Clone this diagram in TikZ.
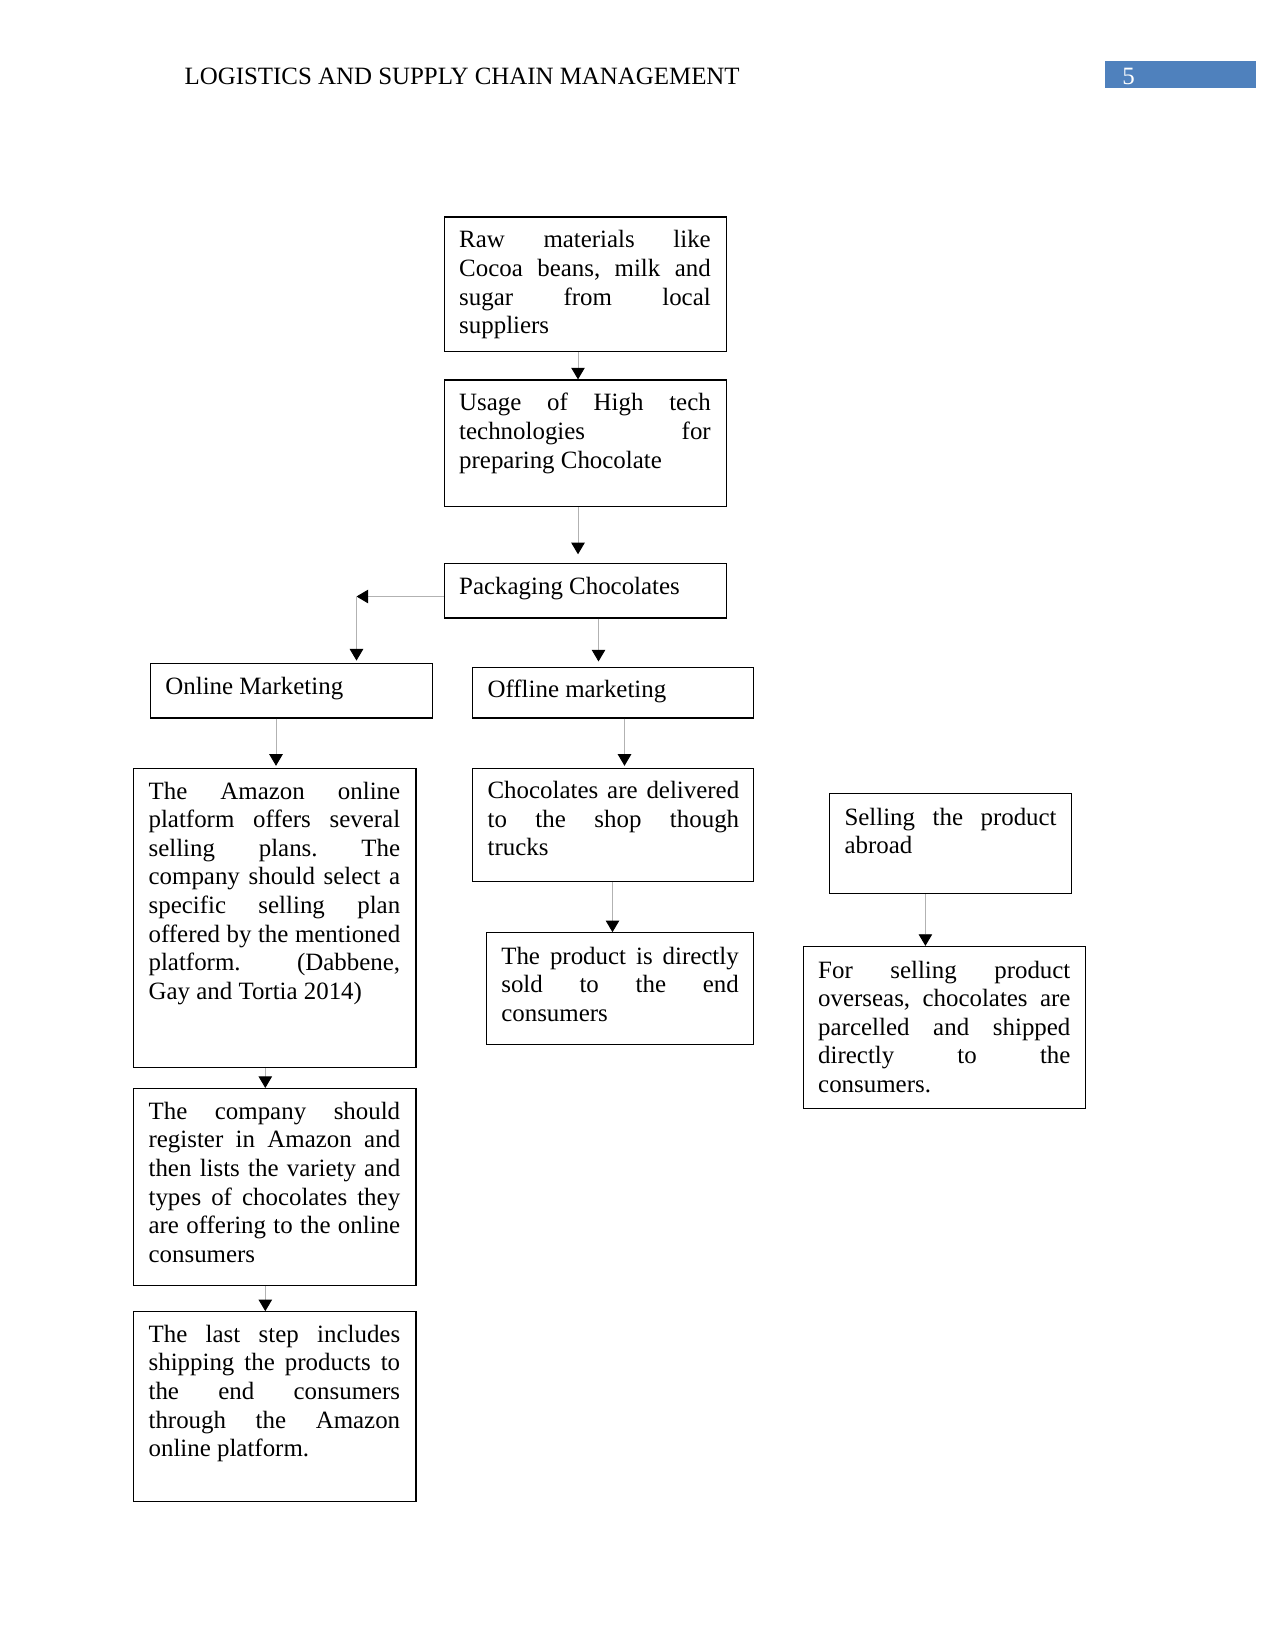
\documentclass[tikz,border=0pt]{standalone}
\usepackage{fontspec}
\setmainfont{Liberation Serif}
\usetikzlibrary{fit,arrows.meta}
\definecolor{pageblue}{HTML}{4F81BD}
\tolerance=10000 \hbadness=10000 \hyphenpenalty=10000
\frenchspacing
\begin{document}
\begin{tikzpicture}[x=0.4818pt,y=-0.4818pt,
  box/.style={draw=black, line width=0.6pt, rectangle, inner sep=0pt},
  txt/.style={anchor=base west, inner sep=0pt, font=\fontsize{12pt}{13.8pt}\selectfont\frenchspacing},
  jtxt/.style={txt, align=justify, text width=#1},
  conn/.style={draw=gray!60, line width=0.45pt, -{Triangle[width=6.5pt,length=5.6pt,color=black,fill=black]}}]
\useasboundingbox (0,0) rectangle (1275,1651);

% header
\node[txt] (hdr) at (184.2,84.2) {LOGISTICS AND SUPPLY CHAIN MANAGEMENT};
\node[fill=pageblue, inner sep=0pt, fit={(1105.4,61) (1256,88.4)}] (pbox) {};
\node[txt, text=white] (pnum) at (1122,84.2) {5};

% boxes
\node[box, fit={(444.3,216.9) (726.4,351.6)}] (raw) {};
\node[box, fit={(444.3,380) (726.4,506.4)}] (usage) {};
\node[box, fit={(444.3,563.2) (726.4,618)}] (pack) {};
\node[box, fit={(150.5,663.3) (432.7,718)}] (online) {};
\node[box, fit={(472.7,667.5) (753.8,718)}] (offline) {};
\node[box, fit={(133.7,768.5) (415.9,1067.5)}] (amazon) {};
\node[box, fit={(133.7,1088.6) (415.9,1285.5)}] (company) {};
\node[box, fit={(133.7,1311.8) (415.9,1501.3)}] (last) {};
\node[box, fit={(472.7,768.5) (753.8,881.2)}] (choc) {};
\node[box, fit={(486.4,932.8) (753.8,1044.4)}] (product) {};
\node[box, fit={(829.6,793.8) (1071.8,893.8)}] (selling) {};
\node[box, fit={(803.3,946.5) (1085.4,1108.6)}] (forsell) {};

% texts
\node[jtxt=121.2pt] (rawt) at (458.8,248) {Raw materials like\linebreak Cocoa beans, milk and\linebreak sugar from local\linebreak suppliers};
\node[jtxt=121.2pt] (usaget) at (458.8,411) {Usage of High tech\linebreak technologies for\linebreak preparing Chocolate};
\node[txt] (packt) at (458.8,594) {Packaging Chocolates};
\node[txt] (onlinet) at (165,694) {Online Marketing};
\node[txt] (offlinet) at (487.2,697.5) {Offline marketing};
\node[jtxt=121.2pt] (amazont) at (148.2,799) {The Amazon online\linebreak platform offers several\linebreak selling plans. The\linebreak company should select a\linebreak specific selling plan\linebreak offered by the mentioned\linebreak platform. (Dabbene,\linebreak Gay and Tortia 2014)};
\node[jtxt=121.2pt] (companyt) at (148.2,1119.1) {The company should\linebreak register in Amazon and\linebreak then lists the variety and\linebreak types of chocolates they\linebreak are offering to the online\linebreak consumers};
\node[jtxt=121.2pt] (lastt) at (148.2,1342.3) {The last step includes\linebreak shipping the products to\linebreak the end consumers\linebreak through the Amazon\linebreak online platform.};
\node[jtxt=121.2pt] (choct) at (487.2,798.5) {Chocolates are delivered\linebreak to the shop though\linebreak trucks};
\node[jtxt=114.4pt] (productt) at (500.9,964) {The product is directly\linebreak sold to the end\linebreak consumers};
\node[jtxt=102.2pt] (sellingt) at (844.1,825) {Selling the product\linebreak abroad};
\node[jtxt=121.5pt] (forsellt) at (817.8,978) {For selling product\linebreak overseas, chocolates are\linebreak parcelled and shipped\linebreak directly to the\linebreak consumers.};

% connectors
\coordinate (a1) at (578,0);
\coordinate (elb) at (356.5,596.5);
\coordinate (a2) at (598.5,0);
\coordinate (a3) at (276,0);
\coordinate (a4) at (624.5,0);
\coordinate (a5) at (265.3,0);
\coordinate (a6) at (612.5,0);
\coordinate (a7) at (925.4,0);
\draw[conn] (raw.south -| a1) -- (usage.north -| a1);
\draw[conn, shorten >=4pt] (usage.south -| a1) -- (pack.north -| a1);
\draw[conn] (pack.west |- elb) -- (elb);
\draw[conn, shorten >=1pt] (elb) -- (online.north -| elb);
\draw[conn, shorten >=2.6pt] (pack.south -| a2) -- (offline.north -| a2);
\draw[conn, shorten >=1pt] (online.south -| a3) -- (amazon.north -| a3);
\draw[conn, shorten >=1pt] (offline.south -| a4) -- (choc.north -| a4);
\draw[conn] (amazon.south -| a5) -- (company.north -| a5);
\draw[conn] (company.south -| a5) -- (last.north -| a5);
\draw[conn] (choc.south -| a6) -- (product.north -| a6);
\draw[conn] (selling.south -| a7) -- (forsell.north -| a7);
\end{tikzpicture}
\end{document}
